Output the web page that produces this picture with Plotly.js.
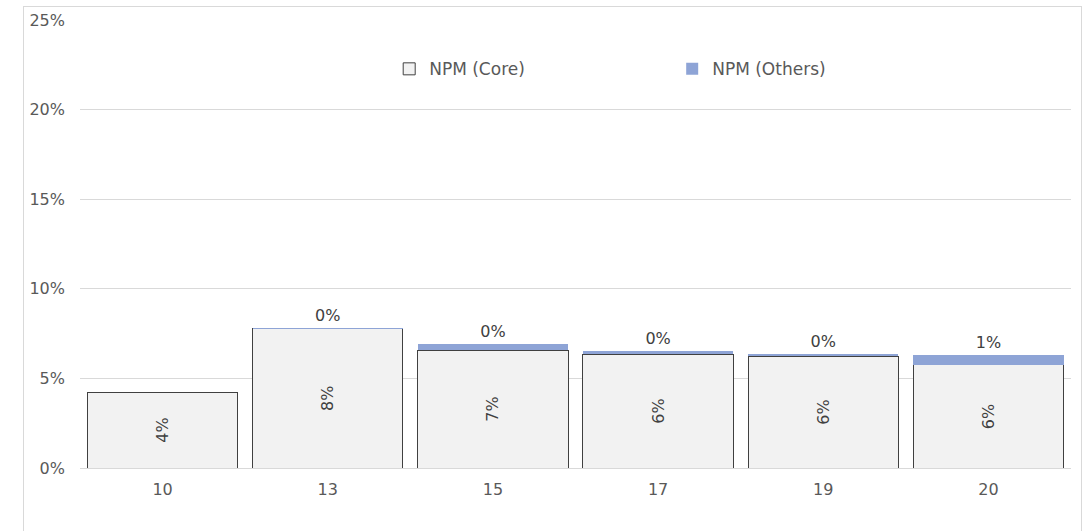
<!DOCTYPE html>
<html>
<head>
<meta charset="utf-8">
<script src="https://cdn.plot.ly/plotly-3.0.1.min.js"></script>
<style>
  html, body { margin: 0; padding: 0; background: #fff; overflow: hidden; }
  #frame { position: absolute; left: 23px; top: 6px; width: 1057px; height: 560px; border: 1px solid #d9d9d9; pointer-events: none; }
  #chart { position: absolute; left: 0; top: 0; width: 1089px; height: 531px; }
</style>
</head>
<body>
<div id="chart"></div>
<div id="frame"></div>
<script>
const categories = ["10", "13", "15", "17", "19", "20"];
const npmCore = [0.0424, 0.0778, 0.0658, 0.0636, 0.0625, 0.0575];
const npmOthers = [0.0, 0.0005, 0.0033, 0.0017, 0.0011, 0.0056];
const yTickVals = [0, 0.05, 0.10, 0.15, 0.20, 0.25];
const yTickText = ["0%", "5%", "10%", "15%", "20%", "25%"];

const FONT = "DejaVu Sans, Verdana, sans-serif";

// Only label "Others" segments that actually exist
const othersTemplate = npmOthers.map(v => v > 0 ? "%{y:.0%}" : "");

const traces = [
  {
    type: "bar",
    name: "NPM (Core)",
    x: categories,
    y: npmCore,
    marker: { color: "#f2f2f2", line: { color: "#404040", width: 1 } },
    texttemplate: "%{y:.0%}",
    textposition: "inside",
    insidetextanchor: "middle",
    textangle: -90,
    textfont: { family: FONT, size: 16, color: "#404040" },
    hoverinfo: "skip"
  },
  {
    type: "bar",
    name: "NPM (Others)",
    x: categories,
    y: npmOthers,
    marker: { color: "#8ea4d6", line: { width: 0 } },
    texttemplate: othersTemplate,
    textposition: "outside",
    textangle: 0,
    textfont: { family: FONT, size: 16, color: "#404040" },
    cliponaxis: false,
    hoverinfo: "skip"
  }
];

const layout = {
  width: 1089,
  height: 531,
  margin: { l: 80, r: 18, t: 20, b: 63 },
  paper_bgcolor: "#ffffff",
  plot_bgcolor: "#ffffff",
  barmode: "stack",
  bargap: 0.09,
  font: { family: FONT, size: 16, color: "#595959" },
  showlegend: true,
  legend: {
    orientation: "h",
    x: 0.312,
    xanchor: "left",
    y: 0.89,
    yanchor: "middle",
    entrywidth: 238,
    font: { family: FONT, size: 17, color: "#595959" },
    traceorder: "normal",
    bgcolor: "rgba(0,0,0,0)"
  },
  xaxis: {
    type: "category",
    showgrid: false,
    showline: false,
    ticks: "",
    ticklabelstandoff: 10,
    tickfont: { family: FONT, size: 16, color: "#595959" },
    zeroline: false
  },
  yaxis: {
    range: [0, 0.25],
    tickvals: yTickVals,
    ticktext: yTickText,
    showgrid: true,
    gridcolor: "#d9d9d9",
    gridwidth: 1,
    zeroline: true,
    zerolinecolor: "#d9d9d9",
    zerolinewidth: 1,
    showline: false,
    ticks: "",
    ticklabelstandoff: 14,
    tickfont: { family: FONT, size: 16, color: "#595959" }
  }
};

Plotly.newPlot("chart", traces, layout, { displayModeBar: false, staticPlot: true });
</script>
</body>
</html>
